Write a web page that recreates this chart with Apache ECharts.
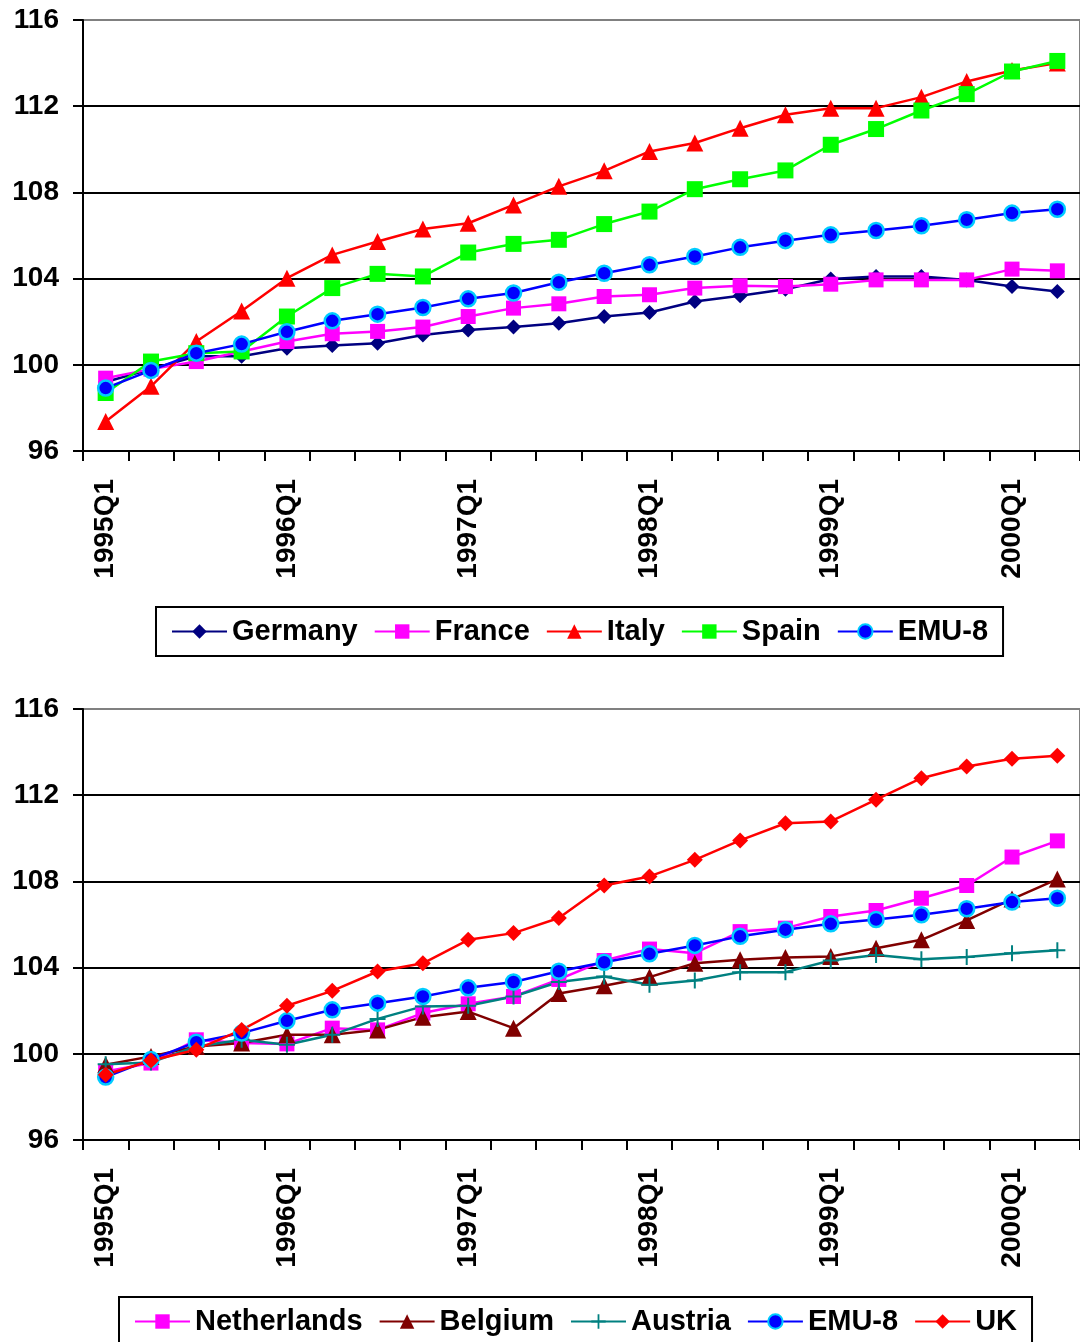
<!DOCTYPE html>
<html>
<head>
<meta charset="utf-8">
<script src="https://cdn.jsdelivr.net/npm/echarts@6/dist/echarts.min.js"></script>
<style>
  html, body { margin: 0; padding: 0; background: #fff; }
  #chart { width: 1080px; height: 1342px; }
</style>
</head>
<body>
<div id="chart"></div>
<script>
// Quarterly index levels, 1995Q1 = ~100
const quarters = [
  '1995Q1','1995Q2','1995Q3','1995Q4',
  '1996Q1','1996Q2','1996Q3','1996Q4',
  '1997Q1','1997Q2','1997Q3','1997Q4',
  '1998Q1','1998Q2','1998Q3','1998Q4',
  '1999Q1','1999Q2','1999Q3','1999Q4',
  '2000Q1','2000Q2'
];
const yTicks = [96, 100, 104, 108, 112, 116];

// Upper panel
const germany = [99.2, 99.8, 100.4, 100.4, 100.77, 100.9, 101.0, 101.38, 101.62, 101.75, 101.93, 102.24, 102.43, 102.94, 103.2, 103.51, 103.98, 104.1, 104.1, 103.94, 103.63, 103.4];
const france  = [99.38, 99.8, 100.15, 100.62, 101.08, 101.44, 101.55, 101.75, 102.24, 102.63, 102.83, 103.17, 103.25, 103.56, 103.67, 103.63, 103.74, 103.94, 103.94, 103.94, 104.44, 104.36];
const italy   = [97.37, 99.0, 101.08, 102.5, 104.02, 105.1, 105.72, 106.3, 106.57, 107.42, 108.28, 109.0, 109.9, 110.29, 110.98, 111.6, 111.91, 111.91, 112.42, 113.15, 113.66, 114.0];
const spain   = [98.69, 100.15, 100.54, 100.62, 102.24, 103.56, 104.22, 104.1, 105.21, 105.61, 105.8, 106.53, 107.11, 108.15, 108.61, 109.02, 110.21, 110.94, 111.8, 112.56, 113.61, 114.1];
const emu8    = [98.92, 99.74, 100.54, 100.96, 101.53, 102.04, 102.35, 102.66, 103.06, 103.33, 103.83, 104.25, 104.64, 105.03, 105.45, 105.76, 106.03, 106.23, 106.45, 106.73, 107.04, 107.22];

// Lower panel
const netherlands = [99.18, 99.57, 100.65, 100.5, 100.46, 101.19, 101.11, 101.89, 102.32, 102.66, 103.45, 104.33, 104.86, 104.67, 105.67, 105.83, 106.37, 106.65, 107.22, 107.81, 109.13, 109.88];
const belgium     = [99.49, 99.88, 100.34, 100.5, 100.88, 100.88, 101.11, 101.7, 101.96, 101.19, 102.8, 103.16, 103.56, 104.2, 104.36, 104.47, 104.52, 104.9, 105.29, 106.19, 107.18, 108.11];
const austria     = [99.52, 99.6, 100.34, 100.65, 100.42, 100.88, 101.62, 102.2, 102.23, 102.66, 103.33, 103.59, 103.2, 103.4, 103.79, 103.79, 104.33, 104.59, 104.39, 104.49, 104.67, 104.8];
const uk          = [99.03, 99.69, 100.19, 101.11, 102.23, 102.92, 103.82, 104.2, 105.29, 105.6, 106.3, 107.81, 108.23, 109.0, 109.9, 110.7, 110.78, 111.79, 112.79, 113.33, 113.69, 113.83];

const FONT = '"Liberation Sans", Arial, sans-serif';
const PLUS = 'path://M7,0 L9,0 L9,7 L16,7 L16,9 L9,9 L9,16 L7,16 L7,9 L0,9 L0,7 L7,7 Z';

function xAxis(gridIndex) {
  return {
    type: 'category', gridIndex, data: quarters, boundaryGap: true,
    axisLine: { lineStyle: { color: '#000', width: 2 } },
    axisTick: { show: true, interval: 0, length: 10, lineStyle: { color: '#000', width: 2 } },
    axisLabel: {
      interval: 3, rotate: 90, margin: 28, color: '#000',
      fontFamily: FONT, fontWeight: 'bold', fontSize: 28
    },
    splitLine: { show: false }
  };
}
function yAxis(gridIndex) {
  return {
    type: 'value', gridIndex, min: yTicks[0], max: yTicks[yTicks.length - 1], interval: 4,
    axisLine: { show: true, lineStyle: { color: '#000', width: 2 } },
    axisTick: { show: true, inside: false, length: 10, lineStyle: { color: '#000', width: 2 } },
    axisLabel: { margin: 24, color: '#000', fontFamily: FONT, fontWeight: 'bold', fontSize: 28 },
    splitLine: { show: true, showMaxLine: false, lineStyle: { color: '#000', width: 2 } }
  };
}
function line(name, data, idx, color, symbol, size, extra) {
  return Object.assign({
    name, type: 'line', data, xAxisIndex: idx, yAxisIndex: idx,
    symbol, symbolSize: size, showAllSymbol: true,
    lineStyle: { color, width: 2.5 },
    itemStyle: { color },
    emphasis: { disabled: true }
  }, extra || {});
}
const emuStyle = { itemStyle: { color: '#0000FF', borderColor: '#00CCFF', borderWidth: 2.5 } };

function legend(top, left, names) {
  return {
    data: names, top, left, orient: 'horizontal',
    itemWidth: 55, itemHeight: 18, itemGap: 16,
    padding: [10, 15],
    borderColor: '#000', borderWidth: 2,
    textStyle: { fontFamily: FONT, fontWeight: 'bold', fontSize: 29, color: '#000' }
  };
}

const chart = echarts.init(document.getElementById('chart'), null, { renderer: 'canvas' });
chart.setOption({
  animation: false,
  backgroundColor: '#fff',
  grid: [
    { left: 83, top: 20, right: 0, height: 431, show: true, borderColor: '#808080', borderWidth: 2, containLabel: false },
    { left: 83, top: 709, right: 0, height: 431, show: true, borderColor: '#808080', borderWidth: 2, containLabel: false }
  ],
  xAxis: [xAxis(0), xAxis(1)],
  yAxis: [yAxis(0), yAxis(1)],
  legend: [
    legend(607, 156, ['Germany', 'France', 'Italy', 'Spain', 'EMU-8']),
    legend(1297, 119, ['Netherlands', 'Belgium', 'Austria', 'EMU-8', 'UK'])
  ],
  series: [
    line('Germany', germany, 0, '#000080', 'diamond', 15),
    line('France', france, 0, '#FF00FF', 'rect', 15),
    line('Italy', italy, 0, '#FF0000', 'triangle', 17),
    line('Spain', spain, 0, '#00FF00', 'rect', 16),
    line('EMU-8', emu8, 0, '#0000FF', 'circle', 15, emuStyle),

    line('Netherlands', netherlands, 1, '#FF00FF', 'rect', 15),
    line('Belgium', belgium, 1, '#800000', 'triangle', 17),
    line('Austria', austria, 1, '#008080', PLUS, 16),
    line('EMU-8', emu8, 1, '#0000FF', 'circle', 15, emuStyle),
    line('UK', uk, 1, '#FF0000', 'diamond', 16)
  ]
});
</script>
</body>
</html>
